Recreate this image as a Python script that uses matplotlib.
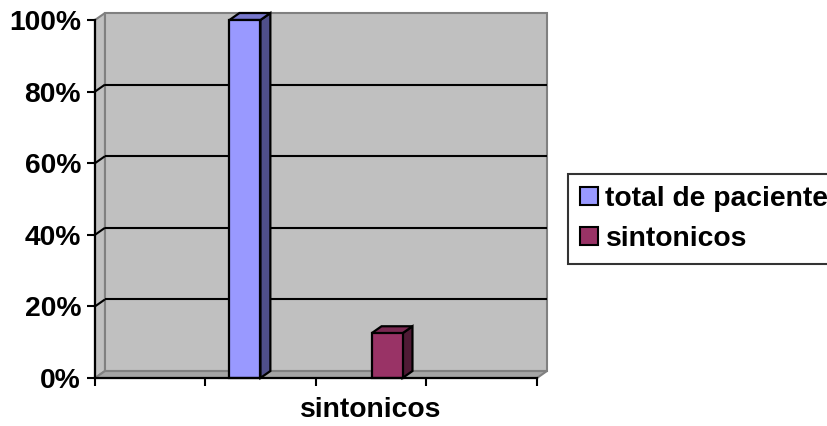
import matplotlib
matplotlib.use("Agg")
import matplotlib.pyplot as plt
from matplotlib.patches import Polygon, Patch

# ---- data -------------------------------------------------------------
categories = ["sintonicos"]
series_names = ["total de paciente", "sintonicos"]
series_values = [100, 12.5]
y_ticks = [0, 20, 40, 60, 80, 100]
y_tick_labels = [f"{v}%" for v in y_ticks]

# ---- style ------------------------------------------------------------
front_colors = ["#9999FF", "#993366"]
top_colors = ["#7777CC", "#7A2952"]
side_colors = ["#4F4F8A", "#4F1A35"]
WALL = "#C0C0C0"
WALL_EDGE = "#808080"
FLOOR = "#A4A4A4"

plt.rcParams['font.family'] = ['Liberation Sans', 'DejaVu Sans']
plt.rcParams['font.weight'] = 'bold'
FS = 20.3

# category axis: one category in the middle of four tick intervals
X_MIN, X_MAX = 0, 4
CAT_POS = 2
BAR_OFFSETS = [-0.643, 0.643]
BAR_WIDTH = 0.28
# depth of the 3-D box, in data units (x, y)
DX, DY = 0.09, 1.95

fig = plt.figure(figsize=(8.28, 4.26), dpi=100)
ax = fig.add_axes([95 / 828, 48 / 426, 442 / 828, 358 / 426])
ax.set_xlim(X_MIN, X_MAX)
ax.set_ylim(y_ticks[0], y_ticks[-1])
ymax = y_ticks[-1]


def poly(pts, fc, ec, lw, z):
    ax.add_patch(Polygon(pts, closed=True, facecolor=fc, edgecolor=ec,
                         linewidth=lw, zorder=z, clip_on=False,
                         joinstyle='miter'))


# back wall
poly([(X_MIN + DX, DY), (X_MAX + DX, DY), (X_MAX + DX, ymax + DY),
      (X_MIN + DX, ymax + DY)], WALL, WALL_EDGE, 1.5, 1)
# side wall
poly([(X_MIN, 0), (X_MIN + DX, DY), (X_MIN + DX, ymax + DY),
      (X_MIN, ymax)], WALL, WALL_EDGE, 1.5, 1)
# floor
poly([(X_MIN, 0), (X_MAX, 0), (X_MAX + DX, DY), (X_MIN + DX, DY)],
     FLOOR, WALL_EDGE, 1.5, 2)

# gridlines on the walls
for v in y_ticks[1:-1]:
    ax.plot([X_MIN + DX, X_MAX + DX], [v + DY, v + DY], color="black",
            lw=1.5, zorder=3, clip_on=False, solid_capstyle='butt')
    ax.plot([X_MIN, X_MIN + DX], [v, v + DY], color="black",
            lw=1.5, zorder=3, clip_on=False, solid_capstyle='butt')

# 3-D bars
for i, (val, off) in enumerate(zip(series_values, BAR_OFFSETS)):
    x0 = CAT_POS + off - BAR_WIDTH / 2
    x1 = x0 + BAR_WIDTH
    z = 5 + i
    poly([(x1, 0), (x1 + DX, DY), (x1 + DX, val + DY), (x1, val)],
         side_colors[i], "black", 1.6, z)
    poly([(x0, val), (x1, val), (x1 + DX, val + DY), (x0 + DX, val + DY)],
         top_colors[i], "black", 1.6, z)
    poly([(x0, 0), (x1, 0), (x1, val), (x0, val)],
         front_colors[i], "black", 1.6, z)

# axes lines and ticks
for s in ["top", "right"]:
    ax.spines[s].set_visible(False)
for s in ["left", "bottom"]:
    ax.spines[s].set_color("black")
    ax.spines[s].set_linewidth(1.6)
    ax.spines[s].set_zorder(10)
ax.patch.set_visible(False)

ax.set_yticks(y_ticks)
ax.set_yticklabels(y_tick_labels, fontsize=FS, fontweight='bold')
ax.set_xticks(range(X_MIN, X_MAX + 1))
ax.set_xticklabels([])
ax.tick_params(axis='both', direction='out', length=6, width=1.5,
               color='black', pad=4)

fig.text(371 / 828, 1 - 410 / 426, categories[0], fontsize=FS,
         fontweight='bold', ha='center', va='center')

# legend (its box runs past the right edge of the figure)
handles = [Patch(facecolor=c, edgecolor='black', linewidth=1.5)
           for c in front_colors]
leg = fig.legend(handles, series_names, loc='upper left',
                 bbox_to_anchor=(568 / 828, 1 - 174 / 426, 0.36, 0),
                 bbox_transform=fig.transFigure, mode='expand',
                 fontsize=FS, frameon=True, fancybox=False, borderaxespad=0,
                 handlelength=0.64, handleheight=0.64, handletextpad=0.27,
                 labelspacing=0.5, borderpad=0.42)
leg.get_frame().set_edgecolor('black')
leg.get_frame().set_linewidth(1.5)
for t in leg.get_texts():
    t.set_fontweight('bold')

fig.savefig("out.png", dpi=100)
